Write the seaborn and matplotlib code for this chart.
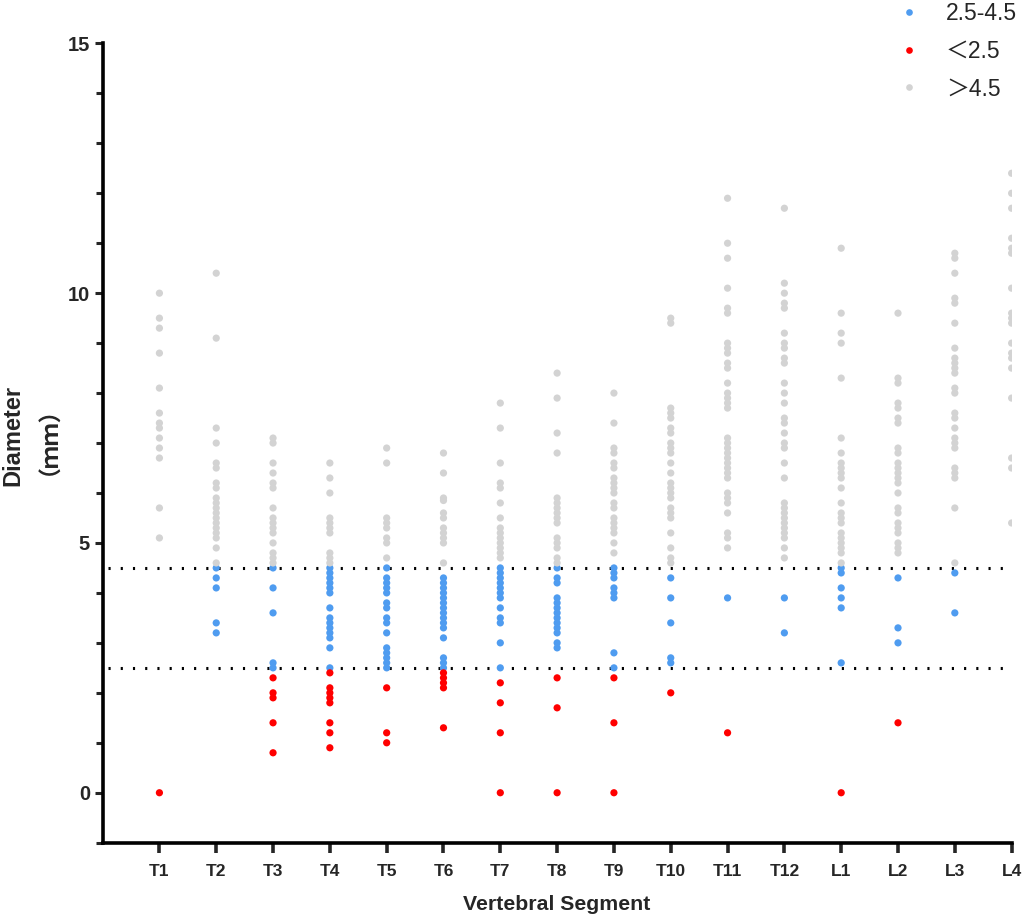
import pandas as pd
import matplotlib
matplotlib.use("Agg")
import matplotlib.pyplot as plt
from matplotlib.ticker import MultipleLocator
import seaborn as sns

segments = ['T1', 'T2', 'T3', 'T4', 'T5', 'T6', 'T7', 'T8',
            'T9', 'T10', 'T11', 'T12', 'L1', 'L2', 'L3', 'L4']

groups = ['2.5-4.5', '＜2.5', '＞4.5']
colors = ['#4f9cf0', '#ff0000', '#d3d3d3']

# diameter > 4.5 mm (grey)
above = {
    'T1': [10.0, 9.5, 9.3, 8.8, 8.1, 7.6, 7.4, 7.3, 7.1, 6.9, 6.7, 5.7, 5.1],
    'T2': [10.4, 9.1, 7.3, 7.0, 6.6, 6.5, 6.2, 6.1, 5.9, 5.8, 5.7, 5.6, 5.5, 5.4, 5.3, 5.2, 5.1, 4.9, 4.6],
    'T3': [7.1, 7.0, 6.6, 6.4, 6.2, 6.1, 5.7, 5.5, 5.4, 5.3, 5.2, 5.0, 4.8, 4.7, 4.6],
    'T4': [6.6, 6.3, 6.0, 5.5, 5.4, 5.3, 5.2, 4.8, 4.7, 4.6],
    'T5': [6.9, 6.6, 5.5, 5.4, 5.3, 5.1, 5.0, 4.7],
    'T6': [6.8, 6.4, 5.9, 5.85, 5.6, 5.5, 5.3, 5.2, 5.1, 5.0, 4.6],
    'T7': [7.8, 7.3, 6.6, 6.2, 6.1, 5.8, 5.5, 5.3, 5.2, 5.1, 5.0, 4.9, 4.8, 4.7],
    'T8': [8.4, 7.9, 7.2, 6.8, 5.9, 5.8, 5.7, 5.6, 5.5, 5.4, 5.1, 5.0, 4.9, 4.7, 4.6],
    'T9': [8.0, 7.4, 6.9, 6.8, 6.6, 6.5, 6.3, 6.2, 6.1, 6.0, 5.8, 5.7, 5.5, 5.4, 5.3, 5.2, 5.0, 4.8],
    'T10': [9.5, 9.4, 7.7, 7.6, 7.5, 7.3, 7.2, 7.0, 6.9, 6.8, 6.6, 6.4, 6.2, 6.1, 6.0, 5.9, 5.7, 5.6,
            5.5, 5.2, 4.9, 4.7, 4.6],
    'T11': [11.9, 11.0, 10.7, 10.1, 9.7, 9.6, 9.0, 8.9, 8.8, 8.6, 8.5, 8.2, 8.0, 7.9, 7.8, 7.7, 7.1,
            7.0, 6.9, 6.8, 6.7, 6.6, 6.5, 6.4, 6.3, 6.0, 5.9, 5.8, 5.6, 5.2, 5.1, 4.9],
    'T12': [11.7, 10.2, 10.0, 9.8, 9.7, 9.2, 9.0, 8.9, 8.7, 8.6, 8.2, 8.0, 7.8, 7.5, 7.4, 7.2, 7.0,
            6.9, 6.6, 6.3, 5.8, 5.7, 5.6, 5.5, 5.4, 5.3, 5.2, 5.1, 4.9, 4.7],
    'L1': [10.9, 9.6, 9.2, 9.0, 8.3, 7.1, 6.8, 6.6, 6.5, 6.4, 6.3, 6.1, 5.8, 5.6, 5.5, 5.4, 5.2, 5.1,
           5.0, 4.9, 4.8, 4.6],
    'L2': [9.6, 8.3, 8.2, 7.8, 7.7, 7.5, 7.4, 6.9, 6.8, 6.6, 6.5, 6.4, 6.3, 6.2, 6.0, 5.7, 5.6, 5.4,
           5.3, 5.2, 5.0, 4.9, 4.8],
    'L3': [10.8, 10.7, 10.4, 9.9, 9.8, 9.4, 8.9, 8.7, 8.6, 8.5, 8.4, 8.1, 8.0, 7.6, 7.5, 7.3, 7.1,
           7.0, 6.9, 6.5, 6.4, 6.3, 5.7, 4.6],
    'L4': [12.4, 12.0, 11.7, 11.1, 10.9, 10.8, 10.1, 9.6, 9.5, 9.4, 9.0, 8.8, 8.7, 8.5, 7.9, 6.7, 6.5, 5.4],
}

# diameter 2.5 - 4.5 mm (blue)
middle = {
    'T1': [],
    'T2': [4.5, 4.3, 4.1, 3.4, 3.2],
    'T3': [4.5, 4.1, 3.6, 2.6, 2.5],
    'T4': [4.5, 4.4, 4.3, 4.2, 4.1, 4.0, 3.7, 3.5, 3.4, 3.3, 3.2, 3.1, 2.9, 2.5],
    'T5': [4.5, 4.3, 4.2, 4.1, 4.0, 3.8, 3.7, 3.5, 3.4, 3.2, 2.9, 2.8, 2.7, 2.6, 2.5],
    'T6': [4.3, 4.2, 4.1, 4.0, 3.9, 3.8, 3.7, 3.6, 3.5, 3.4, 3.3, 3.1, 2.7, 2.6, 2.5],
    'T7': [4.5, 4.4, 4.3, 4.2, 4.1, 4.0, 3.9, 3.7, 3.5, 3.4, 3.0, 2.5],
    'T8': [4.5, 4.3, 4.2, 3.9, 3.8, 3.7, 3.6, 3.5, 3.4, 3.3, 3.2, 3.0, 2.9],
    'T9': [4.5, 4.4, 4.3, 4.1, 4.0, 3.9, 2.8, 2.5],
    'T10': [4.3, 3.9, 3.4, 2.7, 2.6],
    'T11': [3.9],
    'T12': [3.9, 3.2],
    'L1': [4.5, 4.4, 4.1, 3.9, 3.7, 2.6],
    'L2': [4.3, 3.3, 3.0],
    'L3': [4.4, 3.6],
    'L4': [],
}

# diameter < 2.5 mm (red)
below = {
    'T1': [0.0],
    'T2': [],
    'T3': [2.3, 2.0, 1.9, 1.4, 0.8],
    'T4': [2.4, 2.1, 2.0, 1.9, 1.8, 1.4, 1.2, 0.9],
    'T5': [2.1, 1.2, 1.0],
    'T6': [2.4, 2.3, 2.2, 2.1, 1.3],
    'T7': [2.2, 1.8, 1.2, 0.0],
    'T8': [2.3, 1.7, 0.0],
    'T9': [2.3, 1.4, 0.0],
    'T10': [2.0],
    'T11': [1.2],
    'T12': [],
    'L1': [0.0],
    'L2': [1.4],
    'L3': [],
    'L4': [],
}

# long table for seaborn
rows = []
for grp, src in zip(groups, [middle, below, above]):
    for seg in segments:
        for v in src[seg]:
            rows.append({'segment': seg, 'diameter': v, 'group': grp})
df = pd.DataFrame(rows)

sns.set_style('white')
plt.rcParams['font.family'] = ['Liberation Sans', 'Noto Sans CJK SC', 'DejaVu Sans']

fig = plt.figure(figsize=(10.26, 9.23), dpi=100)
ax = fig.add_axes([0.100, 0.087, 0.886, 0.866])

sns.stripplot(data=df, x='segment', y='diameter', hue='group', order=segments,
              hue_order=groups, palette=colors, jitter=False, size=5.2,
              linewidth=0, ax=ax)

# threshold lines
for y in [2.5, 4.5]:
    ax.hlines(y, -0.9, 14.87, colors='black', linewidth=2.2, linestyles=(0, (0.7, 3.3)), zorder=0.5)

ax.set_xlim(-1, 15)
ax.set_ylim(-1, 15)
ax.yaxis.set_major_locator(MultipleLocator(5))
ax.yaxis.set_minor_locator(MultipleLocator(1))

for side in ['top', 'right']:
    ax.spines[side].set_visible(False)
for side in ['left', 'bottom']:
    ax.spines[side].set_linewidth(2.6)
    ax.spines[side].set_color('black')

ax.tick_params(axis='y', which='major', length=6, width=2.2, direction='out', left=True,
               labelsize=14.5, pad=3)
ax.tick_params(axis='y', which='minor', length=5, width=2.2, direction='out', left=True)
ax.tick_params(axis='x', which='major', length=7, width=2.6, direction='out', bottom=True,
               labelsize=12.5, pad=8)
for lab in ax.get_xticklabels() + ax.get_yticklabels():
    lab.set_fontweight('bold')

ax.set_xlabel('Vertebral Segment', fontsize=15.3, fontweight='bold', labelpad=12)
ax.set_ylabel('Diameter', fontsize=17, fontweight='bold')
ax.yaxis.set_label_coords(-0.086, 0.509)
# unit line under the axis title, full-width characters
fig.text(0.037, 0.535, '（ｍｍ）', rotation=90, ha='center', va='center',
         fontsize=16.5, fontweight='bold', family=['Noto Sans CJK SC', 'DejaVu Sans'])

ax.legend_.remove()
handles = [plt.Line2D([], [], marker='o', linestyle='', markersize=4.8,
                      markerfacecolor=c, markeredgewidth=0) for c in colors]
fig.legend(handles, groups, loc='upper left', bbox_to_anchor=(0.855, 1.020),
           frameon=False, fontsize=16.5, handlelength=1.0, handletextpad=1.1,
           labelspacing=0.64)

fig.savefig('out.png', dpi=100)
